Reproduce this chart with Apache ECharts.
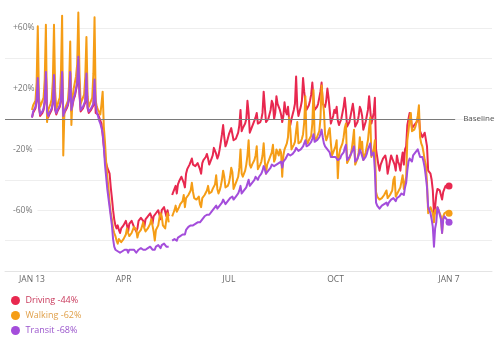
<!DOCTYPE html>
<html>
<head>
<meta charset="utf-8">
<script src="https://cdn.jsdelivr.net/npm/echarts@6/dist/echarts.min.js"></script>
<style>
  html, body { margin: 0; padding: 0; background: #ffffff; }
  #chart { width: 500px; height: 342px; }
</style>
</head>
<body>
<div id="chart"></div>
<script>
// Daily change vs. baseline (%), one row per week (Mon..Sun), starting Mon 13 Jan 2020.
const startDate = '2020-01-13';

const driving = [
  [1, 4, 5, 7, 12, 26, 8],
  [2, 3, 4, 6, 11, 30, 7],
  [1, 3, 4, 6, 10, 28, 6],
  [3, 5, 6, 8, 12, 30, 2],
  [4, 5, 7, 9, 13, 30, 5],
  [9, 13, 15, 19, 23, 39, 16],
  [5, 6, 7, 8, 11, 29, 7],
  [4, 5, 6, 5, 9, 25, 4],
  [4, 3, 1, -1, -3, -3, -18],
  [-26, -29, -32, -34, -36, -45, -52],
  [-60, -66, -70, -72, -70, -73, -75],
  [-72, -71, -70, -69, -67, -70, -74],
  [-69, -68, -67, -67, -71, -70, -74],
  [-72, -67, -66, -65, -64, -67, -71],
  [-66, -65, -64, -63, -62, -64, -69],
  [-64, -63, -62, -62, -60, -61, -66],
  [-60, -59, -58, -57, -64, -60, -64],
  [null, null, -50, -48, -46, -44, -49],
  [-43, -41, -40, -38, -39, -42, -45],
  [-36, -33, -32, -30, -28, -26, -30],
  [-30, -31, -30, -29, -31, -33, -36],
  [-29, -27, -26, -25, -23, -26, -30],
  [-28, -26, -24, -19, -21, -23, -26],
  [-24, -20, -15, -10, -4, -12, -18],
  [-16, -13, -10, -8, -6, -7, -14],
  [-14, -13, -11, -9, -4, 6, -8],
  [-6, -5, -3, 0, 12, 4, -9],
  [-8, -5, -3, -1, 1, 4, -3],
  [-4, -2, 0, 4, 18, 8, -2],
  [-2, 0, 3, 6, 12, 10, 0],
  [4, 15, 10, 8, 6, 3, -2],
  [2, 11, 5, 3, 8, -1, -4],
  [0, 3, 6, 10, 28, 8, 2],
  [5, 8, 12, 27, 18, 11, 6],
  [6, 9, 12, 16, 24, 14, 6],
  [6, 8, 10, 14, 18, 24, 10],
  [10, 8, 12, 20, 14, 6, -3],
  [-3, 2, 6, 4, 8, -1, -4],
  [-4, 0, 4, 8, 14, 6, -5],
  [-5, -2, 2, 6, 10, 4, -5],
  [-5, -2, 2, 8, 6, 2, -7],
  [-6, -2, 2, 6, 15, 6, -3],
  [-3, 4, 14, -20, -25, -30, -34],
  [-30, -28, -26, -25, -24, -28, -36],
  [-32, -28, -24, -26, -25, -30, -34],
  [-24, -28, -30, -34, -27, -22, -30],
  [-20, -18, -4, 0, 4, 2, -6],
  [-6, -4, -3, -2, -1, 2, -8],
  [-10, -12, -11, -9, -10, -18, -34],
  [-34, -36, -40, -47, -62, -58, -50],
  [-46, -45, -47, -50, -53, -48, -46],
  [-44, -45, -44, -44]
].flat();

const walking = [
  [6, 9, 10, 12, 24, 61, 14],
  [8, 10, 11, 14, 26, 62, -2],
  [6, 8, 10, 13, 25, 62, 18],
  [7, 9, 12, 14, 30, 68, -24],
  [5, 8, 10, 12, 22, 51, -4],
  [14, 20, 24, 28, 36, 70, 30],
  [10, 12, 14, 16, 28, 54, 15],
  [8, 10, 12, 14, 30, 67, 12],
  [8, 6, 5, 3, 10, 18, -5],
  [-15, -28, -38, -45, -55, -62, -66],
  [-72, -75, -77, -80, -82, -79, -80],
  [-81, -80, -79, -78, -76, -72, -75],
  [-77, -76, -75, -74, -71, -70, -73],
  [-78, -75, -74, -73, -72, -68, -72],
  [-74, -73, -72, -71, -69, -66, -70],
  [-74, -80, -73, -72, -70, -65, -62],
  [-64, -70, -71, -72, -66, -62, -68],
  [null, null, -64, -62, -60, -57, -61],
  [-60, -58, -56, -55, -54, -50, -58],
  [-52, -51, -50, -49, -47, -42, -48],
  [-52, -53, -53, -54, -51, -56, -58],
  [-52, -51, -50, -49, -47, -44, -49],
  [-49, -48, -46, -45, -43, -37, -46],
  [-49, -47, -44, -40, -34, -38, -45],
  [-46, -44, -42, -38, -32, -35, -46],
  [-44, -42, -40, -38, -32, -20, -36],
  [-38, -36, -34, -30, -24, -14, -30],
  [-32, -30, -29, -27, -24, -18, -33],
  [-32, -30, -28, -24, -16, -28, -36],
  [-30, -28, -26, -25, -22, -17, -28],
  [-26, -20, -22, -24, -20, -22, -38],
  [-24, -20, -18, -16, -12, 1, -7],
  [-20, -19, -17, -15, -8, -2, -16],
  [-17, -15, -13, -10, -2, 15, -14],
  [-16, -14, -13, -11, -3, 19, -12],
  [-14, -12, -10, -8, 0, 22, 12],
  [5, -10, -14, -12, -8, -6, -16],
  [-24, -22, -20, -18, -14, -39, -24],
  [-20, -18, -16, -12, -6, -3, -29],
  [-29, -26, -24, -20, -14, -7, -30],
  [-30, -26, -22, -12, -20, -15, -27],
  [-26, -22, -18, -14, -6, 1, -25],
  [-25, -20, -14, -48, -51, -50, -53],
  [-53, -52, -51, -50, -49, -47, -52],
  [-51, -50, -49, -47, -40, -38, -51],
  [-50, -48, -47, -45, -41, -37, -46],
  [-42, -38, -14, -8, 0, 4, -8],
  [-8, -7, -5, -2, 2, 9, -12],
  [-16, -18, -22, -27, -30, -42, -62],
  [-60, -58, -60, -62, -68, -60, -62],
  [-58, -60, -62, -64, -75, -64, -62],
  [-62, -61, -62, -62]
].flat();

const transit = [
  [1, 5, 6, 8, 13, 27, 9],
  [3, 4, 5, 7, 12, 31, 5],
  [2, 4, 5, 7, 11, 29, 7],
  [4, 6, 7, 9, 13, 31, 2],
  [5, 6, 8, 10, 14, 31, 6],
  [10, 14, 16, 20, 24, 41, 18],
  [6, 7, 8, 9, 12, 30, 8],
  [5, 6, 7, 6, 10, 26, 10],
  [4, 2, -1, -3, -6, -9, -18],
  [-30, -38, -46, -52, -58, -64, -70],
  [-79, -84, -86, -86, -87, -86, -88],
  [-87, -87, -86, -86, -85, -86, -88],
  [-86, -86, -86, -85, -86, -87, -88],
  [-88, -86, -86, -85, -85, -86, -87],
  [-86, -85, -85, -85, -84, -85, -86],
  [-85, -86, -84, -84, -83, -84, -85],
  [-83, -83, -82, -82, -84, -83, -84],
  [null, null, -80, -79, -79, -78, -80],
  [-78, -77, -77, -76, -76, -75, -76],
  [-73, -72, -71, -71, -70, -69, -70],
  [-69, -69, -68, -68, -68, -68, -69],
  [-66, -65, -64, -63, -63, -62, -63],
  [-62, -61, -60, -59, -58, -57, -59],
  [-58, -57, -56, -55, -53, -54, -56],
  [-55, -54, -53, -52, -51, -51, -53],
  [-52, -51, -50, -49, -47, -44, -49],
  [-48, -47, -46, -45, -44, -40, -44],
  [-43, -42, -41, -40, -38, -37, -40],
  [-38, -37, -36, -34, -31, -33, -36],
  [-35, -34, -33, -32, -30, -29, -31],
  [-31, -30, -30, -29, -28, -28, -32],
  [-28, -27, -26, -25, -23, -22, -24],
  [-24, -23, -22, -21, -19, -18, -21],
  [-21, -20, -19, -18, -16, -14, -18],
  [-18, -17, -16, -15, -13, -10, -15],
  [-15, -14, -13, -12, -10, -7, -12],
  [-16, -18, -19, -20, -21, -22, -25],
  [-26, -25, -24, -25, -24, -27, -28],
  [-26, -24, -23, -22, -19, -17, -27],
  [-27, -25, -24, -22, -20, -18, -28],
  [-28, -26, -24, -20, -22, -21, -27],
  [-27, -25, -23, -20, -18, -16, -24],
  [-24, -22, -34, -55, -57, -58, -59],
  [-58, -57, -56, -56, -55, -55, -57],
  [-55, -54, -53, -53, -52, -52, -54],
  [-52, -51, -51, -50, -49, -49, -50],
  [-45, -42, -34, -28, -26, -25, -28],
  [-24, -23, -22, -21, -20, -20, -25],
  [-24, -25, -28, -32, -38, -45, -58],
  [-58, -62, -66, -71, -84, -72, -68],
  [-58, -60, -63, -66, -75, -66, -64],
  [-64, -66, -67, -68]
].flat();

const seriesNames = ['Driving', 'Walking', 'Transit'];
const seriesColors = ['#e8284f', '#f59d16', '#a44ddb'];
const legendTextColors = ['#c93a5c', '#e0a04a', '#9a55cc'];

const tickDates = ['2020-01-13', '2020-04-01', '2020-07-01', '2020-10-01', '2021-01-07'];
const tickLabels = ['JAN 13', 'APR', 'JUL', 'OCT', 'JAN 7'];
const yLabelValues = [60, 20, -20, -60];

// x is measured in days since the start date
const DAY = 86400000;
const t0 = Date.parse(startDate);
const dayOf = s => Math.round((Date.parse(s) - t0) / DAY);
const tickDays = tickDates.map(dayOf);
const lastIndex = driving.length - 1;

const allSeries = [driving, walking, transit];
const fontFamily = '"Open Sans", "Noto Sans", sans-serif';

const chart = echarts.init(document.getElementById('chart'), null, { renderer: 'canvas' });

const series = allSeries.map((values, k) => {
  const s = {
    name: seriesNames[k],
    type: 'line',
    data: values.map((v, i) => [i, v]),
    showSymbol: false,
    connectNulls: false,
    color: seriesColors[k],
    lineStyle: { width: 2, color: seriesColors[k], join: 'round' },
    z: 2 + k,
    markPoint: {
      symbol: 'circle',
      symbolSize: 7,
      silent: true,
      label: { show: false },
      itemStyle: { color: seriesColors[k] },
      data: [{ coord: [lastIndex, values[lastIndex]] }]
    }
  };
  if (k === 0) {
    // reference line at zero change
    s.markLine = {
      silent: true,
      symbol: ['none', 'none'],
      lineStyle: { color: '#7a7a7a', width: 1, type: 'solid' },
      label: {
        show: true,
        position: 'end',
        distance: 8,
        formatter: 'Baseline',
        color: '#555',
        fontSize: 8,
        fontFamily
      },
      data: [[{ coord: [-23.3, 0] }, { coord: [365.3, 0] }]]
    };
  }
  return s;
});

chart.setOption({
  animation: false,
  backgroundColor: '#ffffff',
  textStyle: { fontFamily },
  grid: { left: 5, right: 8, top: -2.6, bottom: 71, outerBoundsMode: 'none' },
  xAxis: {
    type: 'value',
    min: -23.3,
    max: 397.1,
    splitLine: { show: false },
    axisTick: { show: false },
    axisLine: { show: true, onZero: false, lineStyle: { color: '#e4e4e4', width: 1 } },
    axisLabel: {
      customValues: tickDays,
      formatter: v => tickLabels[tickDays.indexOf(v)] || '',
      color: '#666',
      fontSize: 8.5,
      margin: 4,
      fontFamily
    }
  },
  yAxis: {
    type: 'value',
    min: -100,
    max: 80,
    interval: 20,
    axisLine: { show: false },
    axisTick: { show: false },
    splitLine: { show: true, lineStyle: { color: '#eeeeee', width: 1 } },
    axisLabel: {
      inside: true,
      customValues: yLabelValues,
      formatter: v => (v > 0 ? '+' : '') + v + '%',
      color: '#777',
      fontSize: 8.5,
      margin: 0,
      backgroundColor: '#ffffff',
      padding: [1, 5, 1, 8],
      fontFamily
    }
  },
  legend: {
    orient: 'vertical',
    left: 6,
    top: 291,
    icon: 'circle',
    itemWidth: 10,
    itemHeight: 9,
    itemGap: 6,
    selectedMode: false,
    textStyle: { fontSize: 9, fontFamily },
    data: seriesNames.map((n, k) => ({ name: n, textStyle: { color: legendTextColors[k] } })),
    formatter: name => {
      const vals = allSeries[seriesNames.indexOf(name)];
      return name + ' ' + vals[vals.length - 1] + '%';
    }
  },
  series
});
</script>
</body>
</html>
